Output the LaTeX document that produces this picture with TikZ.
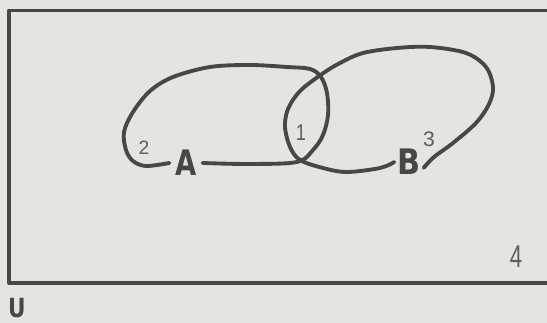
\documentclass[tikz,border=0pt]{standalone}
\usepackage{graphicx}
\usepackage{fontspec}
\setmainfont{DejaVu Sans}
\newfontfamily\thinfont{Liberation Sans}
\begin{document}
\begin{tikzpicture}[x=0.02cm,y=-0.02cm,
  ink/.style={draw=inkc,line width=2.2pt,line cap=round,line join=round},
  bigletter/.style={text=inkc,font=\fontsize{20}{20}\selectfont\bfseries,inner sep=3.2pt},
  numlabel/.style={text=numc,inner sep=0pt}]
\definecolor{inkc}{HTML}{474745}
\definecolor{numc}{HTML}{5E5E5B}
\definecolor{paper}{HTML}{E5E4DF}
\fill[paper] (0,0) rectangle (547,323);
\useasboundingbox (0,0) rectangle (547,323);
% universe rectangle (right side runs off the picture)
\draw[ink] (560,10.5) -- (9,10.5) -- (9,283) -- (560,283);
% labels
\node[bigletter] (A) at (186,163) {\scalebox{0.78}[1]{A}};
\node[bigletter,inner sep=1.6pt] (B) at (409,162) {\scalebox{0.86}[1]{B}};
\node[bigletter,font=\fontsize{15}{15}\selectfont\bfseries] (U) at (17,308) {\scalebox{0.82}[1]{U}};
\node[numlabel,font=\thinfont\fontsize{13}{13}\selectfont] (n1) at (301,133) {\scalebox{0.8}[1]{1}};
\node[numlabel,font=\thinfont\fontsize{11}{11}\selectfont] (n2) at (144,148) {2};
\node[numlabel,font=\thinfont\fontsize{12}{12}\selectfont] (n3) at (429,139) {3};
\node[numlabel,font=\thinfont\fontsize{18}{18}\selectfont] (n4) at (516,257) {\scalebox{0.7}[1]{4}};
% set A
\draw[ink] plot[smooth,tension=0.55] coordinates {(A.east) (250,164) (297,162) (313,150) (323,135) (328,115) (327,93) (321,77) (310,69) (287,67) (250,65) (210,67) (173,77) (150,91) (133,112) (124,132) (126,150) (133,161) (146,166) (A.west)};
% set B
\draw[ink] plot[smooth,tension=0.55] coordinates {(B.west) (380,168) (347,172) (323,168) (300,160) (290,147) (285,127) (288,109) (300,91) (322,74) (340,63) (363,53) (397,48) (430,47) (466,53) (486,67) (493,87) (489,104) (476,123) (453,143) (434,157) (B.-22)};
\end{tikzpicture}
\end{document}
